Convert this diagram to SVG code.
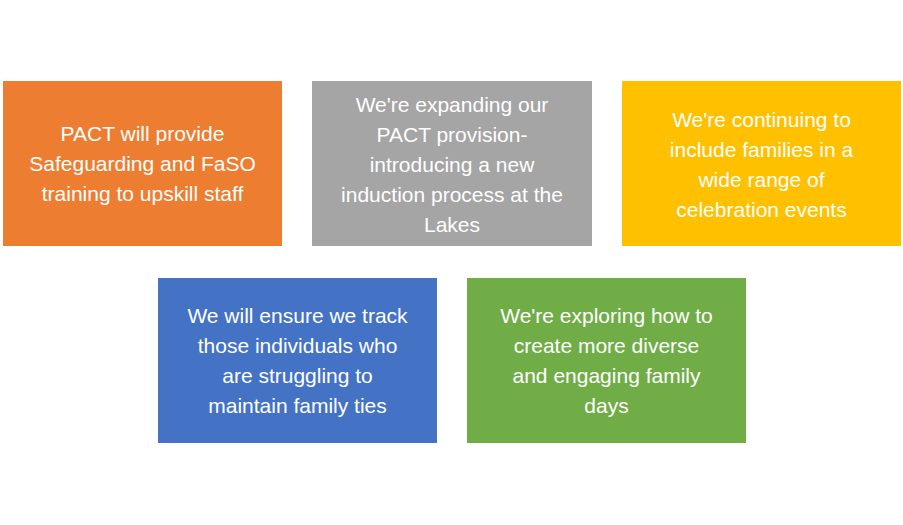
<svg xmlns="http://www.w3.org/2000/svg" width="903" height="525" viewBox="0 0 903 525">
<style>
text{font-family:"Liberation Sans",Arial,sans-serif;font-size:21px;fill:#fff;text-anchor:middle;dominant-baseline:central}
</style>
<rect width="903" height="525" fill="#fff"/>
<g id="n1"><rect x="3" y="81" width="279" height="165" fill="#ED7D31"/>
<text x="142.5" y="133">PACT will provide</text><text x="142.5" y="163">Safeguarding and FaSO</text><text x="142.5" y="193">training to upskill staff</text></g>
<g id="n2"><rect x="312" y="81" width="280" height="165" fill="#A5A5A5"/>
<text x="452" y="104">We're expanding our</text><text x="452" y="134">PACT provision-</text><text x="452" y="164">introducing a new</text><text x="452" y="194">induction process at the</text><text x="452" y="224">Lakes</text></g>
<g id="n3"><rect x="622" y="81" width="279" height="165" fill="#FFC000"/>
<text x="761.5" y="119">We're continuing to</text><text x="761.5" y="149">include families in a</text><text x="761.5" y="179">wide range of</text><text x="761.5" y="209">celebration events</text></g>
<g id="n4"><rect x="158" y="278" width="279" height="165" fill="#4472C4"/>
<text x="297.5" y="315">We will ensure we track</text><text x="297.5" y="345">those individuals who</text><text x="297.5" y="375">are struggling to</text><text x="297.5" y="405">maintain family ties</text></g>
<g id="n5"><rect x="467" y="278" width="279" height="165" fill="#70AD47"/>
<text x="606.5" y="315">We're exploring how to</text><text x="606.5" y="345">create more diverse</text><text x="606.5" y="375">and engaging family</text><text x="606.5" y="405">days</text></g>
<g id="connectors"/>
</svg>
